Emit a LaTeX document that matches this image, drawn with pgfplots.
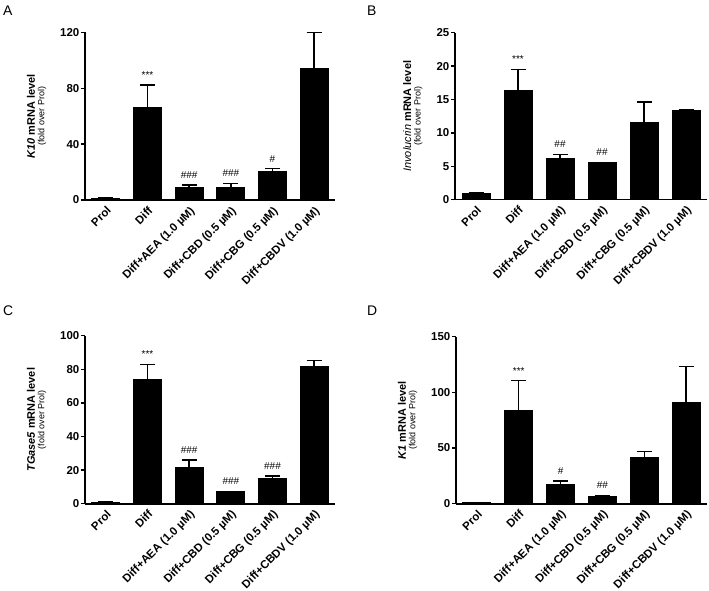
\documentclass[border=0pt]{standalone}
\usepackage{pgfplots}
\pgfplotsset{compat=1.18}
\usepackage{fontspec}
\setmainfont{Liberation Sans}

\pgfplotsset{
 panel/.style={
   scale only axis, width=250bp, height=167.5bp, anchor=south west,
   axis lines*=left, axis line style={line width=1.6bp, black},
   xmin=-0.5, xmax=5.5, ymin=0,
   ybar, bar width=28bp,
   xtick={0,...,5},
   xticklabels={Prol, Diff, Diff+AEA (1.0 µM), Diff+CBD (0.5 µM), Diff+CBG (0.5 µM), Diff+CBDV (1.0 µM)},
   xtick style={draw=none},
   ytick style={line width=1.4bp, black},
   tick align=outside, major tick length=4bp,
   /pgf/number format/assume math mode=true,
   yticklabel style={font=\fontsize{11.5}{12}\selectfont\bfseries, inner sep=1.5bp},
   xticklabel style={font=\fontsize{11.5}{12}\selectfont\bfseries, rotate=45, anchor=north east, inner sep=1bp},
   ylabel style={align=center, font=\fontsize{11}{11}\selectfont},
   ylabel shift=9bp,
   clip=false,
 },
 barplot/.style={fill=black, draw=black, line width=1bp,
   error bars/.cd, y dir=plus, y explicit,
   error bar style={line width=1.4bp, black},
   error mark options={rotate=90, mark size=7.5bp, line width=1.4bp, black}},
}
\tikzset{ann/.style={font=\fontsize{10}{10}\selectfont, anchor=south, yshift=3bp}}
\newcommand{\fold}{\\[-1.5bp]{\fontsize{9}{9}\selectfont (fold over Prol)}}

\begin{document}
\begin{tikzpicture}
\path[use as bounding box] (0,0) rectangle (709bp,591bp);

% Panel labels
\node[font=\fontsize{14}{14}\selectfont, anchor=base west, inner sep=0] at (3bp,575bp) {A};
\node[font=\fontsize{14}{14}\selectfont, anchor=base west, inner sep=0] at (367bp,575bp) {B};
\node[font=\fontsize{14}{14}\selectfont, anchor=base west, inner sep=0] at (3bp,275bp) {C};
\node[font=\fontsize{14}{14}\selectfont, anchor=base west, inner sep=0] at (367bp,275bp) {D};

% Panel A
\begin{axis}[panel, at={(85bp,391bp)}, height=167.5bp, width=250bp,
  ymax=120, ytick={0,40,80,120},
  ylabel={\textbf{\textit{K10} mRNA level}\fold}]
\addplot[barplot] coordinates {
 (0,1) +- (0,0.3)
 (1,66.4) +- (0,16)
 (2,9) +- (0,1.6)
 (3,9) +- (0,3)
 (4,20.2) +- (0,2.3)
 (5,94.5) +- (0,25.5)
};
\node[ann] at (axis cs:1,82.4) {***};
\node[ann] at (axis cs:2,10.6) {\#\#\#};
\node[ann] at (axis cs:3,12) {\#\#\#};
\node[ann] at (axis cs:4,22.5) {\#};
\end{axis}

% Panel B
\begin{axis}[panel, at={(455bp,391.3bp)}, height=167bp, width=252bp,
  ymax=25, ytick={0,5,10,15,20,25},
  ylabel={\textit{Involucrin} \textbf{mRNA level}\fold}]
\addplot[barplot] coordinates {
 (0,1) +- (0,0.05)
 (1,16.4) +- (0,3.1)
 (2,6.1) +- (0,0.7)
 (3,5.5) +- (0,0.1)
 (4,11.5) +- (0,3.1)
 (5,13.3) +- (0,0.1)
};
\node[ann] at (axis cs:1,19.5) {***};
\node[ann] at (axis cs:2,6.8) {\#\#};
\node[ann] at (axis cs:3,5.6) {\#\#};
\end{axis}

% Panel C
\begin{axis}[panel, at={(85bp,87.3bp)}, height=168bp, width=250bp,
  ymax=100, ytick={0,20,40,60,80,100},
  ylabel={\textbf{\textit{TGase5} mRNA level}\fold}]
\addplot[barplot] coordinates {
 (0,1) +- (0,0.2)
 (1,74) +- (0,9)
 (2,21.7) +- (0,4.3)
 (3,7) +- (0,0.3)
 (4,15.1) +- (0,1.4)
 (5,81.8) +- (0,3.4)
};
\node[ann] at (axis cs:1,83) {***};
\node[ann] at (axis cs:2,26) {\#\#\#};
\node[ann] at (axis cs:3,7.3) {\#\#\#};
\node[ann] at (axis cs:4,16.5) {\#\#\#};
\end{axis}

% Panel D
\begin{axis}[panel, at={(456bp,87.3bp)}, height=167bp, width=251bp,
  ymax=150, ytick={0,50,100,150},
  ylabel={\textbf{\textit{K1} mRNA level}\fold}]
\addplot[barplot] coordinates {
 (0,1) +- (0,0.2)
 (1,84) +- (0,26.5)
 (2,16.8) +- (0,3.7)
 (3,6.5) +- (0,1)
 (4,41.2) +- (0,5.8)
 (5,91) +- (0,32.5)
};
\node[ann] at (axis cs:1,110.5) {***};
\node[ann] at (axis cs:2,20.5) {\#};
\node[ann] at (axis cs:3,7.5) {\#\#};
\end{axis}
\end{tikzpicture}
\end{document}
